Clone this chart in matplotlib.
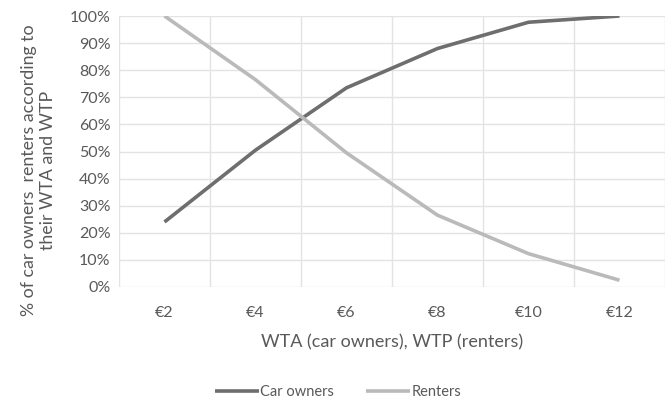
import numpy as np
import matplotlib.pyplot as plt

prices = ["€2", "€4", "€6", "€8", "€10", "€12"]
car_owners = [24, 50.5, 73.5, 88, 97.7, 100]
renters = [100, 76.5, 49.5, 26.5, 12.3, 2.5]

plt.rcParams['font.family'] = ['Lato', 'DejaVu Sans']
txt = "#595959"

fig = plt.figure(figsize=(6.7, 3.99), dpi=100)
ax = fig.add_axes([119 / 670, 1 - 287 / 399, (665 - 119) / 670, (287 - 16) / 399])

x = np.arange(len(prices))
ax.plot(x, car_owners, color="#6e6e6e", lw=2.6, label="Car owners", solid_capstyle="butt")
ax.plot(x, renters, color="#bababa", lw=2.6, label="Renters", solid_capstyle="butt")

ax.set_xlim(-0.5, len(prices) - 0.5)
ax.set_ylim(0, 100)
ax.set_xticks(x)
ax.set_xticklabels(prices)
ax.set_xticks(np.arange(-0.5, len(prices), 1), minor=True)
ax.set_yticks(np.arange(0, 101, 10))
ax.set_yticklabels([f"{v}%" for v in range(0, 101, 10)])
ax.grid(axis="y", color="#e3e3e3", lw=1)
ax.grid(axis="x", which="minor", color="#e3e3e3", lw=1)
ax.set_axisbelow(True)
for s in ax.spines.values():
    s.set_visible(False)
ax.tick_params(which="both", length=0, colors=txt, labelsize=11.5)
ax.tick_params(axis="x", pad=14)
ax.tick_params(axis="y", pad=6)

ax.set_xlabel("WTA (car owners), WTP (renters)", color=txt, fontsize=13, labelpad=10)
ax.set_ylabel("% of car owners  renters according to\ntheir WTA and WTP", color=txt,
              fontsize=12.8, linespacing=1.25, multialignment="center")
ax.yaxis.set_label_coords(-0.115, (287 - 170) / 271)

fig.legend(loc="center", bbox_to_anchor=(0.505, 1 - 392 / 399), ncol=2, frameon=False,
           fontsize=10.5, labelcolor=txt, handlelength=3.0, handletextpad=0.1, columnspacing=2.2)

plt.savefig("out.png", dpi=100)
